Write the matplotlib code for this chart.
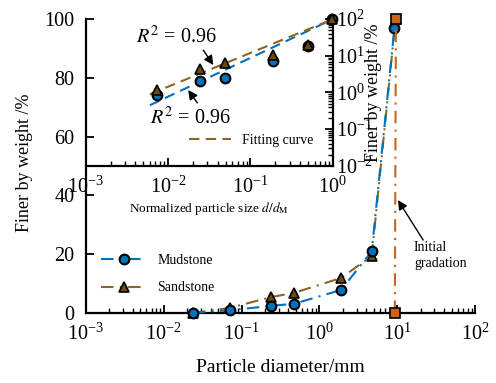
import numpy as np
import matplotlib
matplotlib.use('Agg')
import matplotlib.pyplot as plt
from matplotlib.ticker import LogLocator, NullFormatter

plt.rcParams['font.family'] = ['Liberation Serif', 'DejaVu Serif']
plt.rcParams['mathtext.fontset'] = 'stix'

# --- Data ---
# main plot: particle diameter (mm) vs finer by weight (%)
mud_d = [0.0237, 0.071, 0.24, 0.47, 1.9, 4.7, 9.2]
mud_y = [0.0, 0.9, 2.4, 3.1, 7.8, 21.0, 97.0]
sand_d = [0.0237, 0.071, 0.24, 0.47, 1.9, 4.7, 9.5]
sand_y = [0.0, 1.7, 5.4, 6.8, 11.9, 19.4, 100.0]
init_d = [9.3, 9.6]
init_y = [0.0, 100.0]

# inset: normalized particle size d/dM vs finer by weight (log-log)
mud_norm = [0.0073, 0.0245, 0.0495, 0.19, 0.495, 0.98]
mud_norm_y = [0.85, 2.0, 2.5, 7.2, 18.6, 100.0]
sand_norm = [0.0073, 0.0245, 0.0495, 0.19, 0.495, 0.98]
sand_norm_y = [1.2, 4.4, 6.3, 10.5, 19.4, 100.0]
fit_x = [0.006, 1.0]
mud_fit_y = [0.45, 100.0]
sand_fit_y = [0.9, 100.0]

blue = '#0072BD'
brown = '#8B6523'
brown_fill = '#6B4A10'
orange = '#C8651B'
arrow = dict(arrowstyle='-|>', color='black', lw=1.0, mutation_scale=14,
             shrinkA=0, shrinkB=0)

fig = plt.figure(figsize=(4.96, 3.83), dpi=100)

# --- Main axes ---
ax = fig.add_axes([0.173, 0.183, 0.785, 0.767])
ax.plot(mud_d, mud_y, color=blue, lw=1.5, dashes=(6, 3, 1, 3),
        marker='o', ms=7, mfc=blue, mec='black', mew=1.5,
        label='Mudstone', clip_on=False, zorder=4)
ax.plot(sand_d, sand_y, color=brown, lw=1.5, dashes=(6, 3, 1, 3),
        marker='^', ms=7, mfc=brown_fill, mec='black', mew=1.2,
        label='Sandstone', clip_on=False, zorder=3)
ax.plot(init_d, init_y, color=orange, lw=1.5, dashes=(6, 3, 1, 3),
        marker='s', ms=6.5, mfc=orange, mec='black', mew=1.2,
        clip_on=False, zorder=5)

ax.set_xscale('log')
ax.set_xlim(1e-3, 1e2)
ax.set_ylim(0, 100)
ax.set_yticks([0, 20, 40, 60, 80, 100])
ax.xaxis.set_minor_locator(LogLocator(base=10, subs=np.arange(2, 10), numticks=20))
ax.xaxis.set_minor_formatter(NullFormatter())
for s in ['top', 'right']:
    ax.spines[s].set_visible(False)
for s in ['left', 'bottom']:
    ax.spines[s].set_linewidth(1.6)
ax.tick_params(which='major', direction='in', length=6, width=1.3,
               labelsize=14.5, pad=8)
ax.tick_params(which='minor', direction='in', length=3.5, width=1.0)
ax.set_xlabel('Particle diameter/mm', fontsize=14, labelpad=10)
ax.set_ylabel('Finer by weight /%', fontsize=13)
ax.yaxis.set_label_coords(-0.135, 0.51)

ax.legend(loc='lower left', bbox_to_anchor=(0.013, 0.03), frameon=False,
          fontsize=10, handlelength=3.3, labelspacing=1.05, borderaxespad=0.3)

ax.text(16.4, 24.5, 'Initial\ngradation', fontsize=10, ha='left', va='top',
        linespacing=1.3)
ax.annotate('', xy=(10.2, 38.4), xytext=(21.5, 24.8), arrowprops=arrow)

# --- Inset axes ---
axi = fig.add_axes([0.173, 0.567, 0.498, 0.383])
axi.patch.set_alpha(0)
axi.plot(fit_x, mud_fit_y, color=blue, lw=1.5, dashes=(5, 3), zorder=2)
axi.plot(fit_x, sand_fit_y, color=brown, lw=1.5, dashes=(5, 3), zorder=2,
         label='Fitting curve')
axi.plot(mud_norm, mud_norm_y, ls='none', marker='o', ms=7, mfc=blue,
         mec='black', mew=1.5, clip_on=False, zorder=3)
axi.plot(sand_norm, sand_norm_y, ls='none', marker='^', ms=7, mfc=brown_fill,
         mec='black', mew=1.2, clip_on=False, zorder=4)
axi.set_xscale('log')
axi.set_yscale('log')
axi.set_xlim(1e-3, 1e0)
axi.set_ylim(1e-2, 1e2)
for s in ['top', 'left']:
    axi.spines[s].set_visible(False)
for s in ['right', 'bottom']:
    axi.spines[s].set_linewidth(1.6)
axi.yaxis.tick_right()
axi.yaxis.set_label_position('right')
axi.xaxis.set_major_locator(LogLocator(base=10, subs=(1.0,), numticks=10))
axi.yaxis.set_major_locator(LogLocator(base=10, subs=(1.0,), numticks=10))
axi.xaxis.set_minor_locator(LogLocator(base=10, subs=np.arange(2, 10), numticks=20))
axi.yaxis.set_minor_locator(LogLocator(base=10, subs=np.arange(2, 10), numticks=20))
axi.xaxis.set_minor_formatter(NullFormatter())
axi.yaxis.set_minor_formatter(NullFormatter())
axi.tick_params(which='major', direction='in', length=6, width=1.3,
                labelsize=14.5, pad=2)
axi.tick_params(axis='x', which='major', pad=8)
axi.tick_params(which='minor', direction='in', length=3.5, width=1.0)
axi.set_xlabel(r'Normalized particle size $d/d_{\mathrm{M}}$', fontsize=9.5,
               labelpad=1)
axi.set_ylabel('Finer by weight /%', fontsize=13)
axi.yaxis.set_label_coords(1.13, 0.5)

axi.legend(loc='lower right', bbox_to_anchor=(0.955, 0.07), frameon=False,
           fontsize=10, handlelength=3.0, borderaxespad=0.2)

axi.text(0.0125, 32.4, r'$R^2$ = 0.96', fontsize=14.5, ha='center', va='center')
axi.annotate('', xy=(0.0354, 5.6), xytext=(0.0267, 14.3), arrowprops=arrow)
axi.text(0.0185, 0.20, r'$R^2$ = 0.96', fontsize=14.5, ha='center', va='center')
axi.annotate('', xy=(0.0175, 1.17), xytext=(0.0226, 0.52), arrowprops=arrow)

fig.savefig('out.png', dpi=100)
